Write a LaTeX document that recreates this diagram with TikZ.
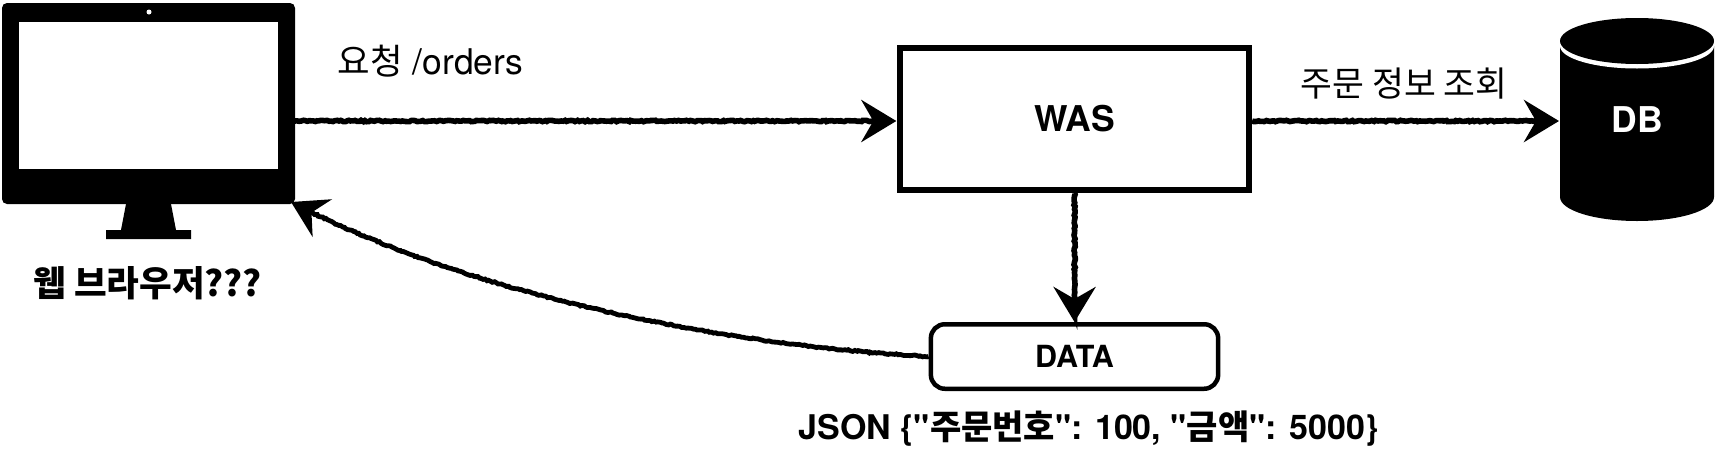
\documentclass[tikz,border=0pt]{standalone}
\usepackage{fontspec}
\setmainfont{TeX Gyre Heros}
\newfontfamily\hv{TeX Gyre Heros}
\newfontfamily\kr{Noto Sans CJK KR}
\usetikzlibrary{arrows.meta,decorations.pathmorphing}
\pgfmathsetseed{7}
\tikzset{
  x=1pt,y=-1pt,
  rough/.style={line width=5.6pt,-{Stealth[length=35pt,width=42pt,inset=12pt]},
    decorate,decoration={random steps,segment length=2pt,amplitude=0.7pt,post length=10pt}},
  lab/.style={inner sep=0pt,outer sep=0pt,text=black},
  blk/.style={fill=black,draw=none},
}
\begin{document}
\begin{tikzpicture}
\useasboundingbox (0,0) rectangle (1720,450);
% browser
\fill[black] (126,204) -- (171,204) -- (176,230) -- (191,230) -- (191,239) -- (106,239) -- (106,230) -- (121,230) -- cycle;
\node[blk,rounded corners=5pt,minimum width=293pt,minimum height=201pt,inner sep=0pt,outer sep=0pt] (browser) at (148.5,103.5) {};
\node[fill=white,draw=none,minimum width=259pt,minimum height=147pt,inner sep=0pt] (screen) at (148.5,95.5) {};
\node[circle,fill=white,draw=none,minimum size=5pt,inner sep=0pt] (camera) at (149,12) {};
\node[lab,font=\fontsize{35.5}{38}\selectfont\bfseries\kr] (browserlabel) at (147.5,283) {웹 브라우저???};
% DB
\node[inner sep=0pt,outer sep=0pt,minimum width=154pt,minimum height=203pt] (db) at (1637,119.5) {};
\fill[black] (1560,46) -- (1560,197) .. controls (1560,210.3) and (1594.5,221) .. (1637,221) .. controls (1679.5,221) and (1714,210.3) .. (1714,197) -- (1714,46) -- cycle;
\fill[white] (1637,46) ellipse [x radius=77pt,y radius=22.5pt];
\fill[black] (1637,41) ellipse [x radius=77pt,y radius=23pt];
\node[lab,text=white,font=\fontsize{35.5}{38}\selectfont\hv\bfseries] (dblabel) at (1637,120) {DB};
% boxes
\node[draw=black,line width=6pt,fill=white,minimum width=348.7pt,minimum height=142pt,inner sep=0pt,font=\fontsize{35.5}{38}\selectfont\hv\bfseries,outer sep=3pt] (was) at (1074.7,119) {\raisebox{-2pt}{WAS}};
\node[draw=black,line width=4.5pt,fill=white,rounded corners=14pt,minimum width=287.3pt,minimum height=64.5pt,inner sep=0pt,font=\fontsize{30.5}{34}\selectfont\hv\bfseries,outer sep=2.25pt] (data) at (1074.5,356.5) {\raisebox{-1pt}{DATA}};
% texts
\node[lab,font=\fontsize{35.4}{38}\selectfont\hv] (req) at (430.5,61) {{\kr 요청} /orders};
\node[lab,font=\fontsize{34.6}{38}\selectfont\kr] (query) at (1404,84) {주문 정보 조회};
\node[lab,font=\fontsize{34}{38}\selectfont\hv\bfseries] (json) at (1088.5,429) {JSON \{"{\kr 주문번호}": 100, "{\kr 금액}": 5000\}};
% connectors
\draw[rough] ([yshift=-2pt]browser.east |- was.west) -- ([shift={(-1pt,-2pt)}]was.west);
\draw[rough] ([yshift=-2pt]was.east) -- ([shift={(-1pt,-2pt)}]db.west |- was.east);
\draw[rough] (was.south) -- (data.north);
\draw[rough,line width=4.8pt] (data.west) .. controls (720,345) and (470,295) .. ([shift={(-4pt,2pt)}]browser.south east);
\end{tikzpicture}
\end{document}
